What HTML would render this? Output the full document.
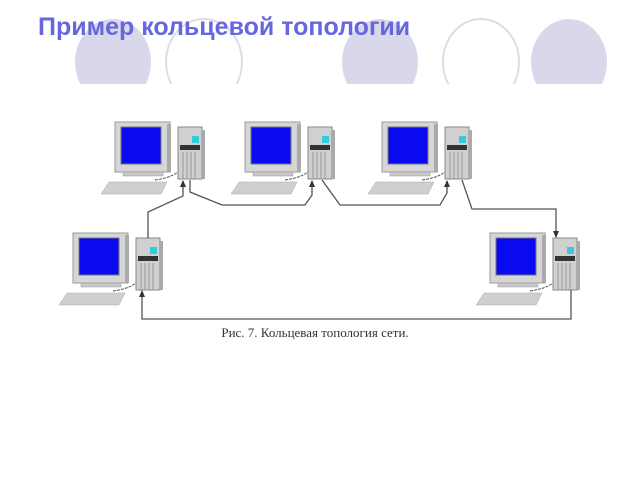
<!DOCTYPE html>
<html><head><meta charset="utf-8"><style>
html,body{margin:0;padding:0;background:#fff;width:640px;height:480px;overflow:hidden}
</style></head><body>
<svg width="640" height="480" viewBox="0 0 640 480" xmlns="http://www.w3.org/2000/svg">
<defs>
<clipPath id="cut"><rect x="0" y="0" width="640" height="84"/></clipPath>
<g id="pc">
  <rect x="0" y="0" width="55" height="50" fill="#d6d6d6" stroke="#999" stroke-width="1"/>
  <rect x="52" y="2" width="4" height="48" fill="#aaa"/>
  <rect x="6" y="5" width="40" height="37" fill="#0a0af0" stroke="#777"/>
  <rect x="8" y="50" width="40" height="4" fill="#c8c8c8" stroke="#999" stroke-width="0.5"/>
  <rect x="63" y="5" width="24" height="52" fill="#d0d0d0" stroke="#888"/>
  <rect x="87" y="8" width="3" height="49" fill="#aaa"/>
  <rect x="77" y="14" width="7" height="7" fill="#3cd"/>
  <rect x="65" y="23" width="20" height="5" fill="#333"/>
  <line x1="68" y1="30" x2="68" y2="57" stroke="#999"/>
  <line x1="72" y1="30" x2="72" y2="57" stroke="#999"/>
  <line x1="76" y1="30" x2="76" y2="57" stroke="#999"/>
  <line x1="80" y1="30" x2="80" y2="57" stroke="#999"/>
  <path d="M-6 60 L52 60 L46 72 L-14 72 Z" fill="#cfcfcf" stroke="#aaa" stroke-width="0.5"/>
  <path d="M40 58 Q55 56 63 50" fill="none" stroke="#555" stroke-dasharray="3,1"/>
</g>
</defs>
<g clip-path="url(#cut)">
  <ellipse cx="113" cy="62" rx="38" ry="43" fill="#d8d8ea"/>
  <ellipse cx="204" cy="62" rx="38" ry="43" fill="none" stroke="#ddd" stroke-width="2"/>
  <ellipse cx="380" cy="62" rx="38" ry="43" fill="#d8d8ea"/>
  <ellipse cx="481" cy="62" rx="38" ry="43" fill="none" stroke="#ddd" stroke-width="2"/>
  <ellipse cx="569" cy="62" rx="38" ry="43" fill="#d8d8ea"/>
</g>
<text x="38" y="35" font-family="Liberation Sans, sans-serif" font-weight="bold" font-size="25" fill="#6666dd">Пример кольцевой топологии</text>

<use href="#pc" x="115" y="122"/>
<use href="#pc" x="245" y="122"/>
<use href="#pc" x="382" y="122"/>
<use href="#pc" x="73" y="233"/>
<use href="#pc" x="490" y="233"/>

<g fill="none" stroke="#555" stroke-width="1.3">
  <path d="M148 238 V212 L183 196 V181"/>
  <path d="M190 180 V192 L222 205 H305 L312 195 V181"/>
  <path d="M322 180 L340 205 H440 L447 193 V181"/>
  <path d="M462 180 L472 209 H556 V237"/>
  <path d="M571 290 V319 H142 V291"/>
</g>
<g fill="#333">
  <path d="M183 180 l-3 7 h6 z"/>
  <path d="M312 180 l-3 7 h6 z"/>
  <path d="M447 180 l-3 7 h6 z"/>
  <path d="M556 238 l-3 -7 h6 z"/>
  <path d="M142 290 l-3 7 h6 z"/>
</g>
<text x="315" y="337" text-anchor="middle" font-family="Liberation Serif, serif" font-size="13" fill="#333">Рис. 7. Кольцевая топология сети.</text>
</svg>
</body></html>
